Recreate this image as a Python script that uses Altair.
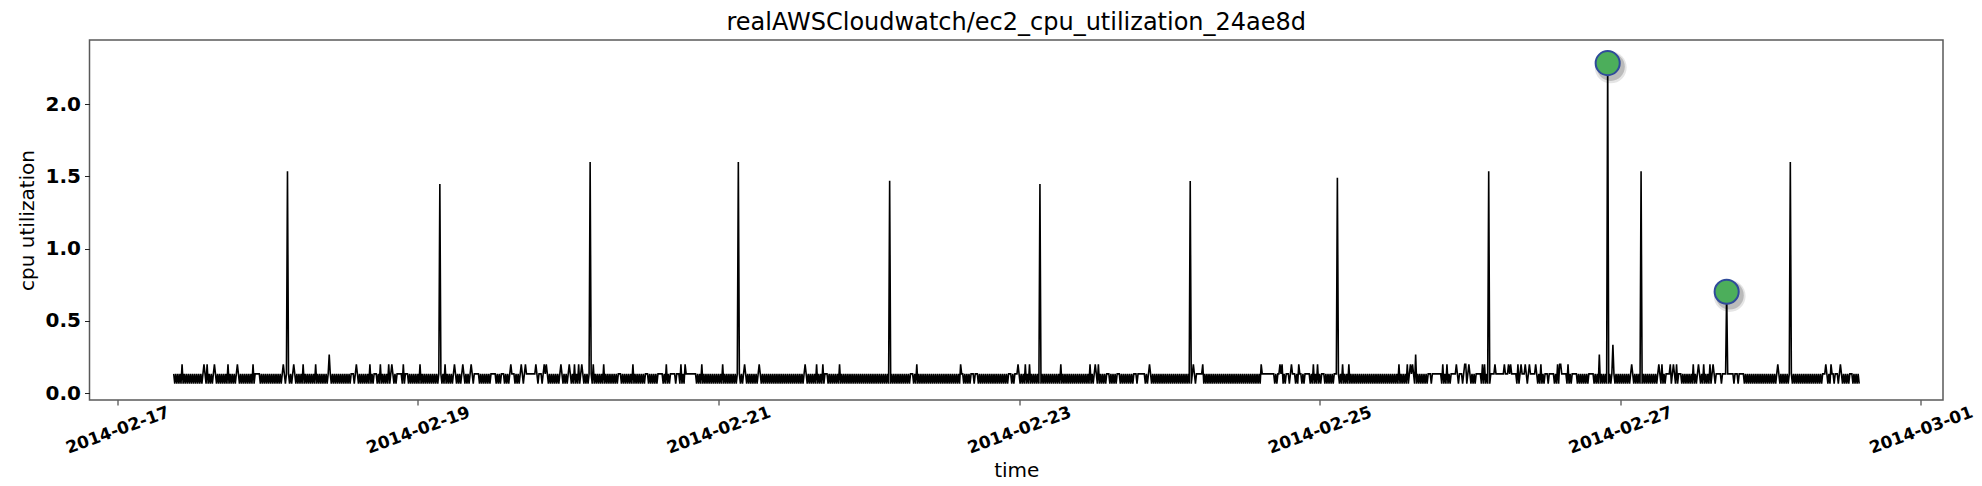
import altair as alt
import numpy as np
import pandas as pd

TITLE = "realAWSCloudwatch/ec2_cpu_utilization_24ae8d"

# ---- data (hours after 2014-02-17 00:00 UTC) ----
SERIES_START_H = 9.0
SERIES_END_H = 278.1
STEP_MIN = 10
BASE = 0.134
LOW = 0.066
SMALL = 0.2

# stretches where the series stays flat at the baseline (no dips)
GAP_START = [22.0, 37.2, 41.0, 44.6, 46.0,
             57.1, 59.7, 61.3, 62.9, 65.0, 67.2, 80.0, 84.2,
             86.5, 88.4, 89.4, 90.8, 112.9,
             126.6, 134.6, 136.5, 137.0, 142.3, 143.4, 158.0, 159.6,
             162.5, 163.0, 163.5, 172.3, 173.1, 182.7, 183.8, 185.4, 186.7, 187.8, 188.8, 189.6, 192.3, 194.4,
             209.2, 210.0, 210.8, 213.0, 214.3, 217.0, 219.4, 220.1, 221.7, 222.8, 223.9, 225.7, 227.9, 228.7,
             230.8, 232.4, 235.1,
             247.5, 249.2, 255.2, 255.7, 256.3, 258.4, 259.0, 272.5, 273.6, 274.4, 276.8]
GAP_END = [22.7, 37.8, 41.4, 45.2, 46.3,
           57.6, 60.3, 61.6, 63.4, 66.7, 67.6, 80.4, 84.8,
           87.0, 88.9, 89.7, 92.4, 113.4,
           127.0, 135.1, 136.7, 137.3, 142.6, 143.7, 158.3, 159.9,
           162.7, 163.3, 164.1, 172.9, 173.4, 183.5, 184.8, 185.9, 187.0, 188.0, 189.1, 190.2, 192.6, 194.7,
           209.8, 210.6, 211.4, 213.5, 214.7, 217.8, 219.9, 221.2, 222.0, 223.3, 224.7, 226.3, 228.4, 229.2,
           231.2, 232.9, 235.6,
           247.9, 249.7, 255.5, 256.1, 258.1, 258.8, 259.5, 272.9, 274.1, 274.6, 277.0]

# small spikes to 0.2
SMALL_SPIKE_H = [10.4, 13.8, 14.3, 15.5, 17.6, 19.1, 21.7, 26.5, 28.2, 29.6, 31.6, 38.1, 40.4, 42.0, 43.3, 43.8, 45.7,
                 48.4, 52.4, 53.9, 55.2, 56.5, 62.9, 64.5, 65.2, 66.9, 68.1, 68.5, 70.9, 72.2, 73.0, 73.6, 74.1,
                 76.0, 77.7, 82.4,
                 87.6, 90.0, 90.7, 93.4, 96.6, 100.1, 102.5, 109.9, 111.7, 112.6, 115.3,
                 127.7, 134.6, 143.9, 145.0, 145.7, 150.7, 155.3, 156.2, 156.6,
                 164.8, 171.8, 173.4, 182.6, 185.6, 186.0, 187.5, 188.6, 191.0, 191.7, 195.6, 196.7,
                 204.6, 206.0, 206.5, 206.8, 211.6, 212.4, 213.8, 215.1, 215.4, 215.9, 218.0, 218.4, 220.0,
                 221.5, 222.2, 222.5, 223.6, 224.1, 224.9, 225.5, 226.5, 227.3, 230.0, 230.3, 230.5, 231.6,
                 241.9, 246.1, 246.7, 248.0, 248.5, 249.0, 251.7, 252.5, 253.4, 254.4, 254.8, 265.1,
                 272.9, 273.6, 275.2]

# medium bumps
MID_SPIKE_H = [33.9, 207.4, 236.7, 238.9]
MID_SPIKE_V = [0.268, 0.268, 0.268, 0.335]

# tall spikes
BIG_SPIKE_H = [27.2, 51.5, 75.5, 99.2, 123.4, 147.4, 171.4, 194.9, 219.0, 238.0, 243.3, 257.0, 267.1]
BIG_SPIKE_V = [1.535, 1.447, 1.600, 1.600, 1.470, 1.447, 1.467, 1.490, 1.535, 2.330, 1.535, 0.700, 1.600]

# anomaly markers
ANOM_H = [238.0, 257.0]
ANOM_V = [2.283, 0.702]

# ---- build table ----
t0 = pd.Timestamp("2014-02-17", tz="UTC")
n = int(round((SERIES_END_H - SERIES_START_H) * 60 / STEP_MIN)) + 1
hrs = SERIES_START_H + np.arange(n) * STEP_MIN / 60.0
vals = np.full(n, BASE)
in_gap = np.zeros(n, dtype=bool)
for a, b in zip(GAP_START, GAP_END):
    in_gap |= (hrs >= a) & (hrs <= b)
dip = (np.arange(n) % 2 == 1) & ~in_gap
vals[dip] = LOW


def put(h, v):
    i = int(round((h - SERIES_START_H) * 60 / STEP_MIN))
    if 0 <= i < n:
        vals[i] = v


for h in SMALL_SPIKE_H:
    put(h, SMALL)
for h, v in zip(MID_SPIKE_H, MID_SPIKE_V):
    put(h, v)
for h, v in zip(BIG_SPIKE_H, BIG_SPIKE_V):
    put(h, v)


def iso(hours):
    t = t0 + pd.to_timedelta(np.asarray(hours), unit="h")
    return list(t.strftime("%Y-%m-%dT%H:%M:%SZ"))


df = pd.DataFrame({"time": iso(hrs), "cpu": vals})
anom = pd.DataFrame({"time": iso(ANOM_H), "cpu": ANOM_V})

FONT = "DejaVu Sans"

x_enc = alt.X(
    "time:T",
    title="time",
    scale=alt.Scale(
        type="utc",
        domain=[
            alt.DateTime(year=2014, month=2, date=16, hours=19, minutes=33, utc=True),
            alt.DateTime(year=2014, month=3, date=1, hours=3, minutes=33, utc=True),
        ],
    ),
    axis=alt.Axis(
        values=[alt.DateTime(year=2014, month=2, date=d, utc=True) for d in [17, 19, 21, 23, 25, 27]]
        + [alt.DateTime(year=2014, month=3, date=1, utc=True)],
        format="%Y-%m-%d",
        labelAngle=340,
        labelAlign="center",
        labelBaseline="middle",
        labelPadding=25,
        labelFontSize=17,
        labelFontWeight="bold",
        labelOverlap=False,
        labelFlush=False,
        titleFontSize=20,
        titleFontWeight="normal",
        titleBaseline="top",
        titleY=60,
        tickSize=5,
    ),
)
y_enc = alt.Y(
    "cpu:Q",
    title="cpu utilization",
    scale=alt.Scale(domain=[-0.047, 2.443], nice=False, zero=False),
    axis=alt.Axis(
        values=[0.0, 0.5, 1.0, 1.5, 2.0],
        format=".1f",
        labelFontSize=20,
        labelFontWeight="bold",
        labelPadding=4,
        titleFontSize=20,
        titleFontWeight="normal",
        titleBaseline="middle",
        titleX=-62,
        titleY=180,
        titleAngle=270,
        tickSize=5,
    ),
)

line = alt.Chart(df).mark_line(color="black", strokeWidth=1.6).encode(x=x_enc, y=y_enc)

shadow_outer = alt.Chart(anom).mark_point(
    shape="M 1.55,0.35 A 1.3,1.3 0 1,1 -1.05,0.35 A 1.3,1.3 0 1,1 1.55,0.35 Z",
    filled=True, fill="#000000", opacity=0.10, strokeWidth=0, size=600,
).encode(x=x_enc, y=y_enc)
shadow_inner = alt.Chart(anom).mark_point(
    shape="M 1.4,0.3 A 1.15,1.15 0 1,1 -0.9,0.3 A 1.15,1.15 0 1,1 1.4,0.3 Z",
    filled=True, fill="#000000", opacity=0.18, strokeWidth=0, size=600,
).encode(x=x_enc, y=y_enc)
circles = alt.Chart(anom).mark_circle(
    size=580, fill="#4CAE5B", stroke="#2F4B9A", strokeWidth=2, opacity=1,
).encode(x=x_enc, y=y_enc)

chart = (
    alt.layer(line, shadow_outer, shadow_inner, circles)
    .properties(
        width=1853.5,
        height=360,
        autosize=alt.AutoSizeParams(type="none"),
        padding={"left": 81.5, "top": 32, "right": 31, "bottom": 86},
        title=alt.TitleParams(
            TITLE, fontSize=24, font=FONT, fontWeight="normal", anchor="middle",
            frame="group", offset=8, baseline="bottom", dy=27, color="black",
        ),
    )
    .configure_view(stroke="#595959", strokeWidth=1.5)
    .configure_axis(
        grid=False, domain=False, tickColor="#222222", tickWidth=1,
        labelColor="black", titleColor="black", labelFont=FONT, titleFont=FONT,
    )
)

chart.save("out.html", embed_options={"renderer": "svg", "actions": False})
